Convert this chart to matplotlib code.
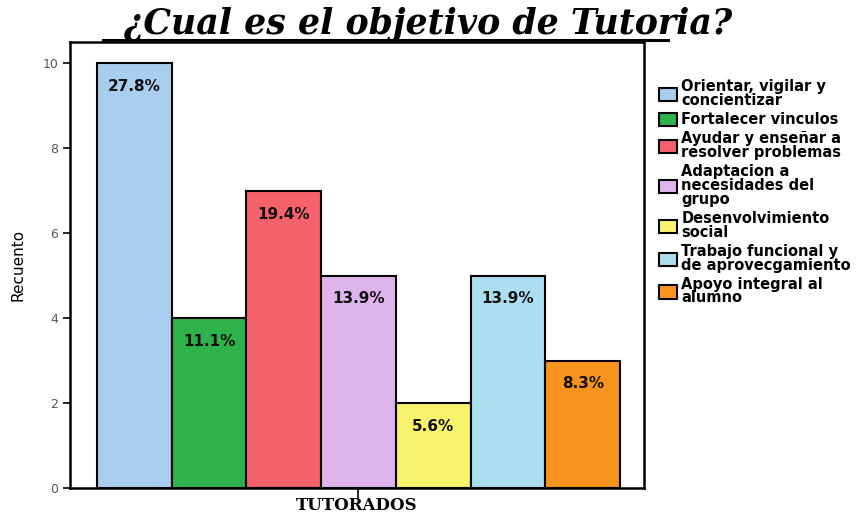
import matplotlib
matplotlib.use("Agg")
import matplotlib.pyplot as plt
from matplotlib.patches import Patch
from matplotlib.lines import Line2D

# data
categorias = ['Orientar, vigilar y\nconcientizar',
              'Fortalecer vinculos',
              'Ayudar y enseñar a\nresolver problemas',
              'Adaptacion a\nnecesidades del\ngrupo',
              'Desenvolvimiento\nsocial',
              'Trabajo funcional y\nde aprovecgamiento',
              'Apoyo integral al\nalumno']
recuento = [10, 4, 7, 5, 2, 5, 3]
porcentajes = ['27.8%', '11.1%', '19.4%', '13.9%', '5.6%', '13.9%', '8.3%']
colores = ['#a9cdee', '#2eb24b', '#f6626b', '#ddb4ec', '#f7f36c', '#abdff0', '#f7941e']
yticks = [0, 2, 4, 6, 8, 10]

fig = plt.figure(figsize=(8.64, 5.16), dpi=100)
ax = fig.add_axes([70/864, 1 - 488/516, 574/864, 446/516])

x = list(range(len(recuento)))
bars = ax.bar(x, recuento, width=1.0, color=colores, edgecolor='black', linewidth=1.5)

# percentage labels inside the top of each bar
for xi, v, p in zip(x, recuento, porcentajes):
    ax.text(xi, v - 0.55, p, ha='center', va='center', fontsize=11,
            fontweight='bold', color='#111111')

ax.set_xlim(-0.86, 6.82)
ax.set_ylim(0, 10.5)
ax.set_yticks(yticks)
ax.set_yticklabels([str(t) for t in yticks], color='#555555', fontsize=9)
ax.set_xticks([3])
ax.set_xticklabels([''])
ax.tick_params(axis='x', length=8, width=1.2)
ax.tick_params(axis='y', length=5, width=1.2)
for s in ax.spines.values():
    s.set_linewidth(1.8)

ax.set_ylabel('Recuento', fontsize=11, labelpad=12)
fig.text(357/864, 1 - 506/516, 'TUTORADOS', ha='center', va='center',
         fontsize=12, fontweight='bold', family='DejaVu Serif')

# title with underline
fig.text(428/864, 1 - 24/516, '¿Cual es el objetivo de Tutoria?', ha='center',
         va='center', fontsize=25, fontweight='bold', style='italic',
         family='DejaVu Serif')
fig.add_artist(Line2D([103/864, 668/864], [1 - 40/516, 1 - 40/516],
                      color='black', linewidth=2.2))

handles = [Patch(facecolor=c, edgecolor='black', linewidth=1.5) for c in colores]
leg = fig.legend(handles, categorias, loc='upper left',
                 bbox_to_anchor=(652/864, 1 - 72/516), frameon=False,
                 fontsize=10.5, handlelength=1.2, handleheight=1.0,
                 handletextpad=0.3, labelspacing=0.28, borderpad=0)
for t in leg.get_texts():
    t.set_fontweight('bold')
    t.set_linespacing(0.9)

fig.savefig('out.png', dpi=100)
